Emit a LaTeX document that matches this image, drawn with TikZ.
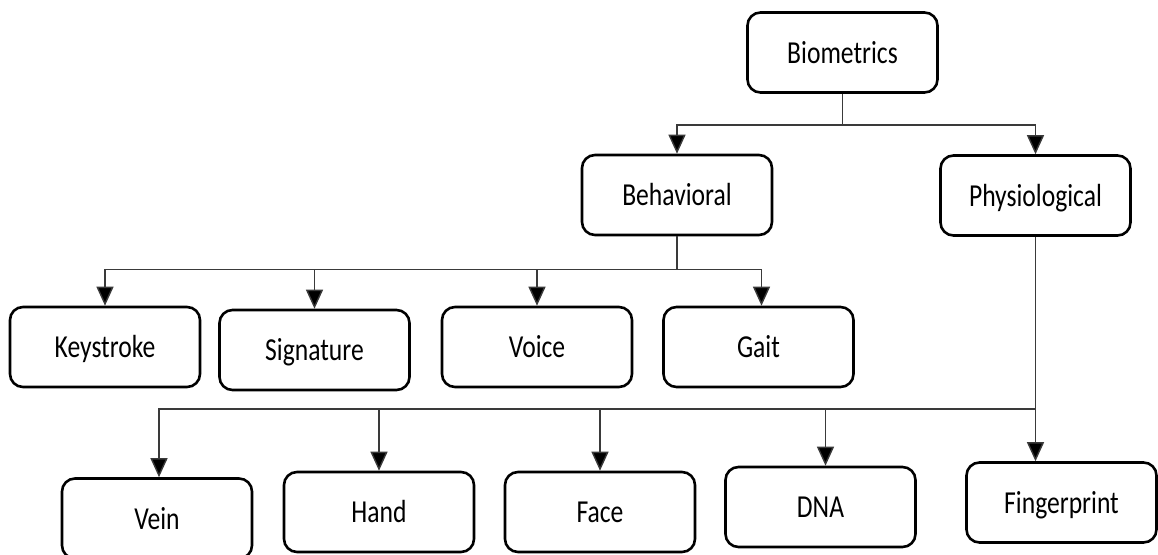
\documentclass[tikz,border=0pt]{standalone}
\usepackage{fontspec}
\newfontfamily\boxfont{Carlito}[FakeStretch=0.8]
\usetikzlibrary{arrows.meta}
\definecolor{linegray}{HTML}{3A3A3A}
\tikzset{
  box/.style={draw=black, line width=2.6pt, rounded corners=13pt, fill=white,
    minimum width=190pt, minimum height=80pt, inner sep=0pt,
    text height=21pt, text depth=0pt,
    font=\boxfont\fontsize{32}{38}\selectfont},
  conn/.style={draw=linegray, line width=1.4pt},
  arr/.style={conn, -{Triangle[width=17pt,length=19pt,fill=black]}}
}
\begin{document}
\begin{tikzpicture}[x=1pt, y=-1pt]
\useasboundingbox (0,0) rectangle (1158,554);

% top level
\node[box] (bio) at (842.5,52.5) {Biometrics};

% second level
\node[box] (beh) at (677,195) {Behavioral};
\node[box] (phy) at (1035.5,195.5) {Physiological};

% behavioral traits
\node[box] (key) at (105,347) {Keystroke};
\node[box] (sig) at (314.5,350) {Signature};
\node[box] (voi) at (537,347) {Voice};
\node[box] (gai) at (758.5,347) {Gait};

% physiological traits
\node[box] (vei) at (157,518.5) {Vein};
\node[box] (han) at (379,512) {Hand};
\node[box] (fac) at (600,512) {Face};
\node[box] (dna) at (820.5,507) {DNA};
\node[box] (fin) at (1061.5,502.5) {Fingerprint};

% junction points of the tree branches (yshift works in page direction, upward)
\coordinate (j1) at ([yshift=-31pt]bio.south);
\coordinate (j2) at ([yshift=-33pt]beh.south);
\coordinate (j3) at ([yshift=-172pt]phy.south);

% biometrics -> behavioral / physiological
\draw[conn] (bio.south) -- (j1);
\draw[arr] (j1) -| (beh.north);
\draw[arr] (j1) -| (phy.north);

% behavioral -> traits
\draw[conn] (beh.south) -- (j2);
\draw[arr] (j2) -| (key.north);
\draw[arr] (j2) -| (sig.north);
\draw[arr] (j2) -| (voi.north);
\draw[arr] (j2) -| ([xshift=3pt]gai.north);

% physiological -> traits
\draw[arr] (phy.south) -- (phy.south |- fin.north);
\draw[arr] (j3) -| ([xshift=2pt]vei.north);
\draw[arr] (j3) -| (han.north);
\draw[arr] (j3) -| (fac.north);
\draw[arr] (j3) -| ([xshift=5pt]dna.north);
\end{tikzpicture}
\end{document}
